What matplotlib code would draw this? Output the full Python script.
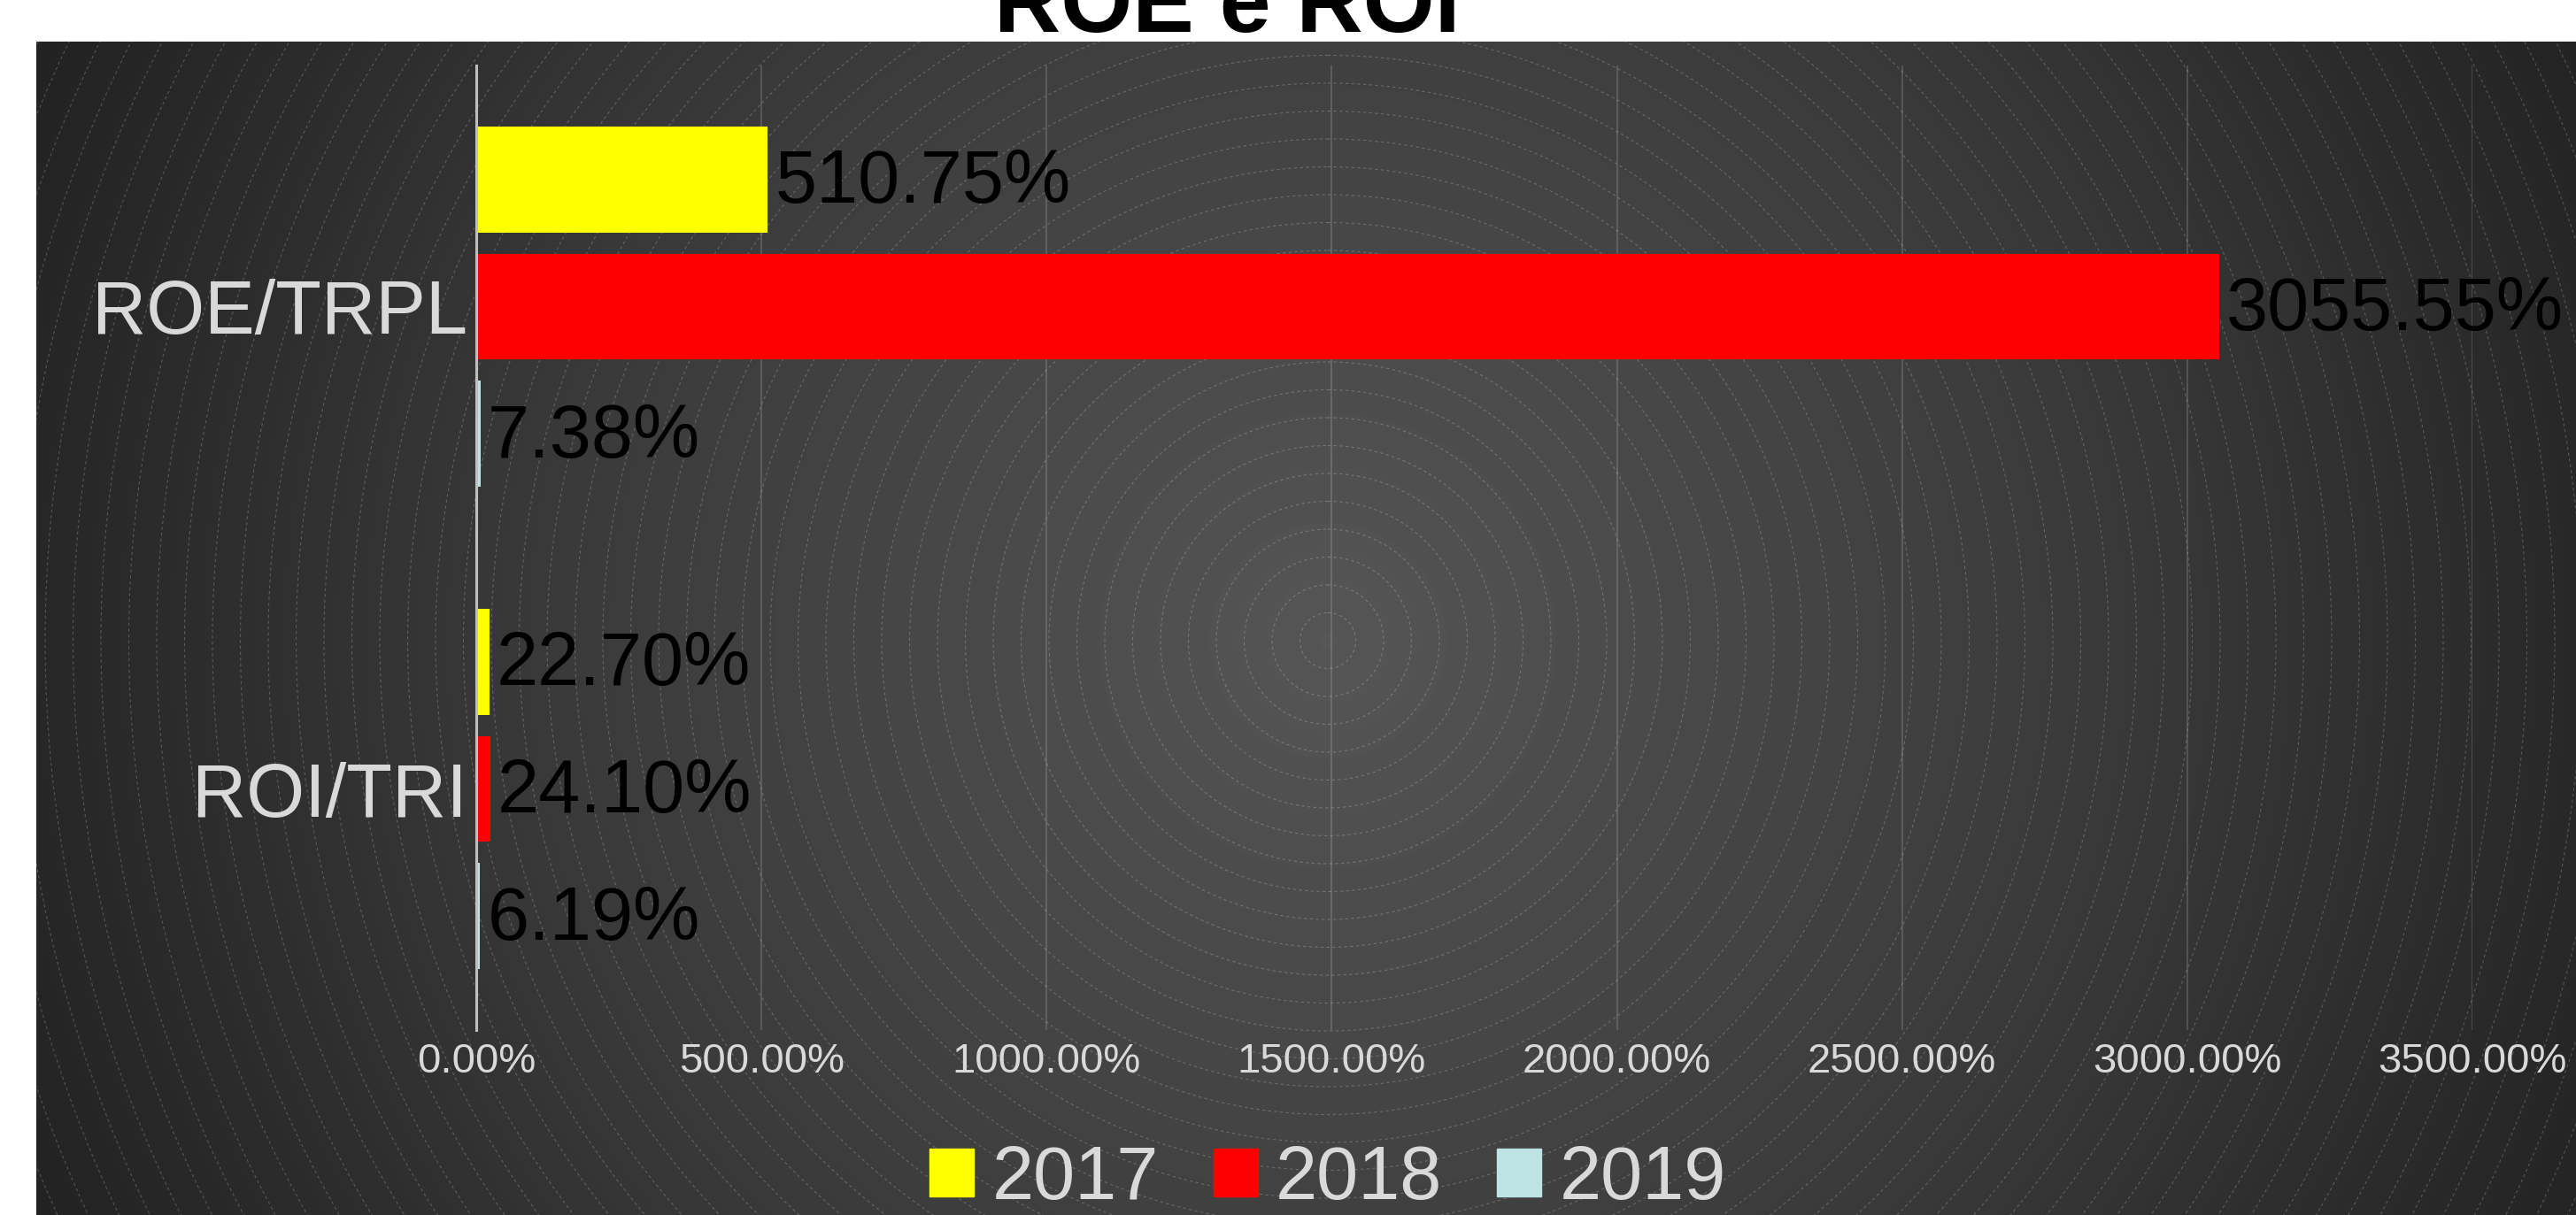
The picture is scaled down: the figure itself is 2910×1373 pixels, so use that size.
import numpy as np
import matplotlib
matplotlib.use('Agg')
import matplotlib.pyplot as plt
from matplotlib.patches import Circle, Patch

plt.rcParams['font.family'] = ['Liberation Sans', 'DejaVu Sans']

categories = ['ROI/TRI', 'ROE/TRPL']
years = ['2017', '2018', '2019']
values = {
    '2017': [22.70, 510.75],
    '2018': [24.10, 3055.55],
    '2019': [6.19, 7.38],
}
colors = {'2017': '#FFFF00', '2018': '#FF0000', '2019': '#BEE3E5'}
xticks = [0, 500, 1000, 1500, 2000, 2500, 3000, 3500]

W, H = 2910, 1373
fig = plt.figure(figsize=(W / 100, H / 100), dpi=100)
fig.patch.set_facecolor('white')

# background panel (radial gradient + dashed rings), in pixel coords
px0, py0 = 41, 47
bg = fig.add_axes([px0 / W, 0, (W - px0) / W, (H - py0) / H], zorder=0)
cx, cy = 1500, 724
yy, xx = np.mgrid[py0:H, px0:W]
d = np.hypot(xx - cx, yy - cy)
v = (86 - 52 * d / 1608) / 255
bg.imshow(v, cmap='gray', vmin=0, vmax=1, extent=(px0, W, H, py0),
          interpolation='bilinear', aspect='auto')
for k in range(1, 56):
    bg.add_patch(Circle((cx, cy), 31.5 * k, fill=False, ec='white', alpha=0.22,
                        lw=0.8, ls=(0, (3, 3))))
bg.set_xlim(px0, W)
bg.set_ylim(H, py0)
bg.axis('off')

# main chart
ax = fig.add_axes([538 / W, (H - 1164) / H, 2255 / W, 1090 / H], zorder=1)
ax.set_facecolor('none')
y = np.arange(len(categories))
offsets = {'2017': 0.264, '2018': 0.0, '2019': -0.264}
for yr in years:
    bars = ax.barh(y + offsets[yr], values[yr], height=0.22, color=colors[yr], zorder=3)
    for b, val in zip(bars, values[yr]):
        ax.annotate('%.2f%%' % val, (b.get_width(), b.get_y() + b.get_height() / 2),
                    xytext=(6, -3), textcoords='offset points', va='center', ha='left',
                    fontsize=61, color='black', annotation_clip=False, zorder=4)

ax.set_xlim(0, 3500)
ax.set_ylim(-0.5, 1.5)
ax.set_xticks(xticks)
ax.set_xticklabels(['%.2f%%' % t for t in xticks])
ax.set_yticks(y)
ax.set_yticklabels(categories)
ax.tick_params(axis='x', length=0, pad=10, labelsize=34, labelcolor='#D9D9D9')
ax.tick_params(axis='y', length=0, pad=7, labelsize=61, labelcolor='#D9D9D9')
ax.grid(axis='x', color='white', alpha=0.15, lw=1.5, zorder=1)
for s in ['top', 'right', 'bottom']:
    ax.spines[s].set_visible(False)
ax.spines['left'].set_color('#BFBFBF')
ax.spines['left'].set_linewidth(2.2)
ax.spines['left'].set_zorder(5)

handles = [Patch(color=colors[yr], label=yr) for yr in years]
leg = fig.legend(handles=handles, loc='center', bbox_to_anchor=(1500 / W, 1 - 1333 / H),
                 ncol=3, frameon=False, fontsize=61, handlelength=0.59, handleheight=0.59,
                 handletextpad=0.24, columnspacing=0.73, borderpad=0)
for t in leg.get_texts():
    t.set_color('#D9D9D9')

fig.text(1386 / W, 1 - 36 / H, 'ROE e ROI', ha='center', va='baseline',
         fontsize=75, fontweight='bold', color='black', zorder=10)

fig.savefig('out.png', dpi=100)
